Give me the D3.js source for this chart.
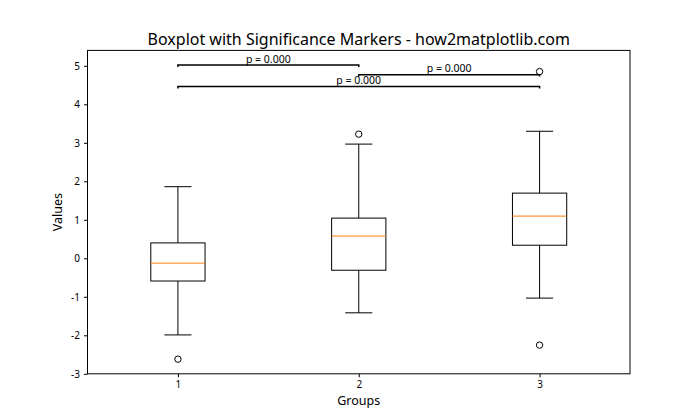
<!DOCTYPE html>
<html>
<head>
<meta charset="utf-8">
<script src="https://cdn.jsdelivr.net/npm/d3@7"></script>
<style>
  body { margin: 0; background: #fff; }
  text { font-family: "Noto Sans", "DejaVu Sans", sans-serif; fill: #000; }
</style>
</head>
<body>
<svg id="chart" width="700" height="420"></svg>
<script>
// ---- data ----
const groups = [1, 2, 3];
const q1 = [-0.59, -0.31, 0.34];
const medians = [-0.125, 0.577, 1.096];
const q3 = [0.40, 1.044, 1.693];
const whiskerLow = [-1.99, -1.416, -1.034];
const whiskerHigh = [1.86, 2.966, 3.30];
const outliers = [[-2.62], [3.225], [-2.255, 4.85]];
const yTicks = [-3, -2, -1, 0, 1, 2, 3, 4, 5];
// significance brackets
const sigFrom = [1, 2, 1];
const sigTo = [2, 3, 3];
const sigY = [5.02, 4.77, 4.46];
const sigLabels = ["p = 0.000", "p = 0.000", "p = 0.000"];
const sigDrop = 0.05;

// ---- layout ----
const svg = d3.select("#chart");
const margin = { left: 87.5, right: 70, top: 50.4, bottom: 46.2 };
const W = 700, H = 420;
const x = d3.scaleLinear().domain([0.5, 3.5]).range([margin.left, W - margin.right]);
const y = d3.scaleLinear().domain([-3, 5.4]).range([H - margin.bottom, margin.top]);
const boxW = 0.3, capW = 0.15;

const g = svg.append("g");

groups.forEach((grp, i) => {
  const cx = x(grp);
  g.append("line").attr("x1", cx).attr("x2", cx).attr("y1", y(q1[i])).attr("y2", y(whiskerLow[i]))
    .attr("stroke", "#000").attr("stroke-width", 1);
  g.append("line").attr("x1", cx).attr("x2", cx).attr("y1", y(q3[i])).attr("y2", y(whiskerHigh[i]))
    .attr("stroke", "#000").attr("stroke-width", 1);
  [whiskerLow[i], whiskerHigh[i]].forEach(v => {
    g.append("line").attr("x1", x(grp - capW / 2)).attr("x2", x(grp + capW / 2))
      .attr("y1", y(v)).attr("y2", y(v)).attr("stroke", "#000").attr("stroke-width", 1);
  });
  g.append("rect").attr("x", x(grp - boxW / 2)).attr("y", y(q3[i]))
    .attr("width", x(grp + boxW / 2) - x(grp - boxW / 2)).attr("height", y(q1[i]) - y(q3[i]))
    .attr("fill", "none").attr("stroke", "#000").attr("stroke-width", 1);
  g.append("line").attr("x1", x(grp - boxW / 2)).attr("x2", x(grp + boxW / 2))
    .attr("y1", y(medians[i])).attr("y2", y(medians[i]))
    .attr("stroke", "#ff7f0e").attr("stroke-width", 1);
  outliers[i].forEach(v => {
    g.append("circle").attr("cx", cx).attr("cy", y(v)).attr("r", 3.2)
      .attr("fill", "none").attr("stroke", "#000").attr("stroke-width", 1);
  });
});

sigFrom.forEach((a, i) => {
  const b = sigTo[i];
  const yy = sigY[i];
  const pts = [[a, yy - sigDrop], [a, yy], [b, yy], [b, yy - sigDrop]];
  g.append("path")
    .attr("d", d3.line().x(d => x(d[0])).y(d => y(d[1]))(pts))
    .attr("fill", "none").attr("stroke", "#000").attr("stroke-width", 1.5);
  g.append("text").attr("x", x((a + b) / 2)).attr("y", y(yy) - 2.5)
    .attr("text-anchor", "middle").attr("font-size", "10.5px").text(sigLabels[i]);
});

const xAxis = d3.axisBottom(x).tickValues(groups).tickFormat(d3.format("d")).tickSizeOuter(0).tickSize(3.5).tickPadding(4);
const yAxis = d3.axisLeft(y).tickValues(yTicks).tickFormat(d => d < 0 ? "-" + Math.abs(d) : d).tickSizeOuter(0).tickSize(3.5).tickPadding(4);
const gx = svg.append("g").attr("transform", `translate(0,${H - margin.bottom})`).call(xAxis);
const gy = svg.append("g").attr("transform", `translate(${margin.left},0)`).call(yAxis);
[gx, gy].forEach(a => {
  a.select(".domain").remove();
  a.selectAll("text").attr("font-size", "10px").attr("font-family", '"Noto Sans", sans-serif').attr("fill", "#000");
  a.selectAll("line").attr("stroke", "#000");
});

svg.append("rect").attr("x", margin.left).attr("y", margin.top)
  .attr("width", W - margin.left - margin.right).attr("height", H - margin.top - margin.bottom)
  .attr("fill", "none").attr("stroke", "#000").attr("stroke-width", 1);

svg.append("text").attr("x", (margin.left + W - margin.right) / 2).attr("y", 44.5)
  .attr("text-anchor", "middle").attr("font-size", "16px")
  .text("Boxplot with Significance Markers - how2matplotlib.com");
svg.append("text").attr("x", (margin.left + W - margin.right) / 2).attr("y", 405)
  .attr("text-anchor", "middle").attr("font-size", "12.5px").text("Groups");
svg.append("text").attr("transform", `translate(62,${(margin.top + H - margin.bottom) / 2}) rotate(-90)`)
  .attr("text-anchor", "middle").attr("font-size", "12.5px").text("Values");
</script>
</body>
</html>
